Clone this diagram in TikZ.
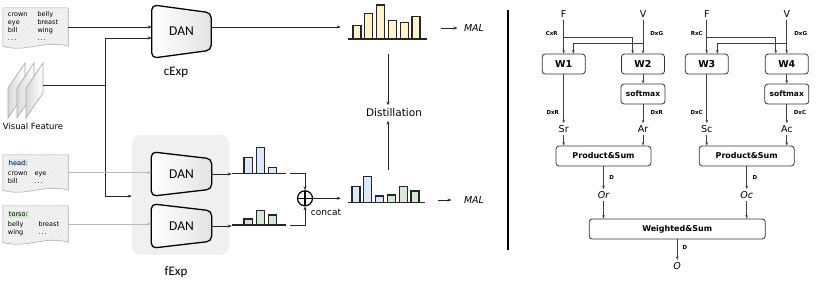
\documentclass[tikz,border=0pt]{standalone}
\usepackage{fontspec}
\setmainfont{DejaVu Sans}[BoldFont={DejaVu Sans Bold},ItalicFont={DejaVu Sans Oblique},BoldItalicFont={DejaVu Sans Bold Oblique}]
\newfontfamily\calfont{Carlito}
\usepackage{tikz}
\usetikzlibrary{arrows.meta,positioning,backgrounds,patterns,calc}
\definecolor{histyellow}{HTML}{FFF2CC}
\definecolor{histblue}{HTML}{DAE8FC}
\definecolor{histgreen}{HTML}{D5E8D4}
\setlength{\fboxsep}{1pt}

\begin{document}
\begin{tikzpicture}[
  x=1pt, y=-1pt,
  arr/.style={-{Stealth[length=4pt,width=3pt]}, line width=0.8pt, black!85},
  link/.style={line width=0.8pt, black!85},
  softarr/.style={-{Stealth[length=4pt,width=3pt]}, line width=0.8pt, gray!55},
  rarr/.style={-{Stealth[length=3.5pt,width=2.6pt]}, line width=0.7pt, black!75},
  attrdoc/.style={text width=55, inner xsep=5, inner ysep=0, align=left, font=\fontsize{6.5}{8}\selectfont},
  docline/.style={draw=gray!70, line width=0.6pt, fill=gray!5, postaction={pattern=north east lines, pattern color=gray!25}},
  sheet/.style={draw=gray!70, line width=0.6pt, left color=gray!30, right color=white},
  dantext/.style={inner sep=0, font=\calfont\fontsize{13.5}{14}\selectfont},
  danline/.style={draw=black, line width=1.3pt, rounded corners=5pt, left color=white, right color=gray!22},
  fexpbox/.style={fill=gray!12, rounded corners=8pt, minimum width=97, minimum height=120},
  caption/.style={font=\calfont\fontsize{13}{14}\selectfont},
  histarea/.style={inner sep=0},
  bar/.style={draw=black!85, line width=1.1pt},
  histbase/.style={draw=black!85, line width=1.5pt},
  catnode/.style={circle, draw, line width=1.2pt, minimum size=15, inner sep=0,
    path picture={\draw[line width=1.2pt] (path picture bounding box.north) -- (path picture bounding box.south)
      (path picture bounding box.west) -- (path picture bounding box.east);}},
  wbox/.style={draw=black!80, line width=0.8pt, rounded corners=3pt, minimum width=43, minimum height=20, inner sep=0, font=\bfseries\fontsize{9.5}{10}\selectfont},
  smbox/.style={wbox, minimum width=44, font=\bfseries\fontsize{7.5}{8}\selectfont},
  pbox/.style={wbox, minimum width=95, font=\bfseries\fontsize{8}{9}\selectfont},
  vlabel/.style={inner sep=2pt, font=\fontsize{9.5}{10}\selectfont},
  dimlabel/.style={inner sep=0, font=\bfseries\fontsize{5.5}{6}\selectfont}
]
  \useasboundingbox (0,0) rectangle (822,284);

  % left: attribute lists and visual feature
  \node[attrdoc, minimum height=38] (attr1) at (35.5,27) {\begin{tabular}{@{}l@{\hspace{10pt}}l@{}}crown & belly\\ eye & breast\\ bill & wing\\ .\,.\,. & .\,.\,.\end{tabular}};
  \node[attrdoc, minimum height=35] (attr2) at (35.5,172.5) {\begin{tabular}{@{}l@{\hspace{7pt}}l@{}}\multicolumn{2}{@{}l}{\colorbox{histblue}{head:}}\\[2pt] crown & eye\\ bill & .\,.\,.\end{tabular}};
  \node[attrdoc, minimum height=36] (attr3) at (35.5,224) {\begin{tabular}{@{}l@{\hspace{15pt}}l@{}}\multicolumn{2}{@{}l}{\colorbox{histgreen}{torso:}}\\[2pt] belly & breast\\ wing & .\,.\,.\end{tabular}};

  \foreach \i in {0,1,2}
    \draw[sheet] (8+9*\i,118) -- (8+9*\i,88) -- (25+9*\i,63) -- (25+9*\i,93) -- cycle;
  \coordinate (vf) at (43,85);
  \node[font=\fontsize{8.5}{9}\selectfont] (vflabel) at (33,126) {Visual Feature};

  % DAN blocks
  \node[dantext, minimum width=59, minimum height=53] (dan1) at (181.5,31.5) {DAN};
  \node[dantext, minimum width=60, minimum height=44] (dan2) at (181.5,174) {DAN};
  \node[dantext, minimum width=60, minimum height=44] (dan3) at (181.5,226) {DAN};
  \node[caption] (cexp) at (176,72) {cExp};
  \node[caption] (fexplabel) at (176,272) {fExp};

  \begin{scope}[on background layer]
    \node[fexpbox] (fexp) at (180.5,195) {};
    \foreach \d in {attr1,attr2,attr3}
      \draw[docline] (\d.north west) -- (\d.north east) -- (\d.south east)
        .. controls +(-22,-7) and +(22,7) .. (\d.south west) -- cycle;
    \foreach \d/\s in {dan1/8,dan2/7,dan3/7}
      \draw[danline] (\d.north west) -- ([yshift=-\s]\d.north east) -- ([yshift=\s]\d.south east) -- (\d.south west) -- cycle;
  \end{scope}

  % histograms
  \node[histarea, minimum width=94, minimum height=34] (hc) at (388,22) {};
  \node[histarea, minimum width=94, minimum height=33] (hb) at (388,186.5) {};
  \node[histarea, minimum width=54, minimum height=26] (hs1) at (259,160.3) {};
  \node[histarea, minimum width=54, minimum height=18] (hs2) at (259,216) {};

  \foreach \i/\t in {0/25.7,1/13.3,2/5,3/20.7,4/22.7,5/16.7}
    \draw[bar, fill=histyellow] (353+11.8*\i,39) rectangle ++(8,\t-39);
  \draw[histbase] (348,39) -- (427,39);
  \foreach \i/\t/\c in {0/186.7/histblue,1/176.7/histblue,2/196/histblue,3/195/histgreen,4/186.7/histgreen,5/191/histgreen}
    \draw[bar, fill=\c] (352+11.8*\i,202.7) rectangle ++(8,\t-202.7);
  \draw[histbase] (348,202.7) -- (425,202.7);
  \foreach \i/\t in {0/157.3,1/147.3,2/167.3}
    \draw[bar, fill=histblue] (244+12.2*\i,173.3) rectangle ++(8.5,\t-173.3);
  \draw[histbase] (232,173.3) -- (286,173.3);
  \foreach \i/\t in {0/219,1/210.7,2/215}
    \draw[bar, fill=histgreen] (244+12.2*\i,225) rectangle ++(8.5,\t-225);
  \draw[histbase] (232,225) -- (286,225);

  \node[catnode] (cat) at (305,198.3) {};
  \node[font=\fontsize{9}{10}\selectfont] (catlabel) at (326,212) {concat};
  \node[font=\itshape\fontsize{9.5}{10}\selectfont] (mal1) at (474,28) {MAL};
  \node[font=\itshape\fontsize{9.5}{10}\selectfont] (mal2) at (474,200) {MAL};
  \node[font=\fontsize{10.5}{11}\selectfont] (dist) at (394,113) {Distillation};

  % left connectors
  \coordinate (fork) at (105,85);
  \coordinate (ftop) at (105,38);
  \coordinate (fbot) at (105,196);
  \coordinate (dan1out) at ([yshift=4.5]dan1.east);
  \draw[link] (vf) -- (fork);
  \draw[arr] (fbot) -- (ftop) -- (ftop -| dan1.west);
  \draw[arr] (fbot) -- (fbot -| fexp.west);
  \draw[arr] (attr1) -- (attr1 -| dan1.west);
  \draw[softarr] (attr2) -- (attr2 -| dan2.west);
  \draw[softarr] (attr3) -- (attr3 -| dan3.west);
  \draw[arr] (dan1out) -- (dan1out -| hc.west);
  \draw[arr] (dan2) -- (dan2 -| hs1.west);
  \draw[arr] (dan3) -- (dan3 -| hs2.west);
  \draw[arr] ([xshift=4]hs1.south east) -| (cat.north);
  \draw[arr] ([xshift=4]hs2.south east) -| (cat.south);
  \draw[arr] (cat) -- (cat -| hb.west);
  \draw[arr, shorten <=6pt, shorten >=3pt] (hc.east |- mal1) -- (mal1);
  \draw[arr, shorten <=3pt, shorten >=9pt] (hb.east |- mal2) -- (mal2);
  \draw[arr] ([yshift=-15]hc.south) -- (hc.south |- dist.north);
  \draw[arr] (hb.north) -- (hb.north |- dist.south);

  % separator
  \draw[line width=1.2pt] (508,10) -- (508,250);

  % right: attention blocks
  \node[vlabel] (f1) at (563.7,14) {F};
  \node[vlabel] (v1) at (643,14) {V};
  \node[vlabel] (f2) at (706.8,14) {F};
  \node[vlabel] (v2) at (786.8,14) {V};
  \node[wbox] (w1) at (563.7,64) {W1};
  \node[wbox] (w2) at (643,64) {W2};
  \node[wbox] (w3) at (706.8,64) {W3};
  \node[wbox] (w4) at (786.8,64) {W4};
  \node[smbox] (sm1) at (643,94) {softmax};
  \node[smbox] (sm2) at (786.8,94) {softmax};
  \node[vlabel] (sr) at (563.7,129) {Sr};
  \node[vlabel] (ar) at (643,129) {Ar};
  \node[vlabel] (sc) at (706.8,129) {Sc};
  \node[vlabel] (ac) at (786.8,129) {Ac};
  \node[pbox] (ps1) at (603.5,156) {Product\&Sum};
  \node[pbox] (ps2) at (746.7,156) {Product\&Sum};
  \node[vlabel, font=\itshape\fontsize{9.5}{10}\selectfont] (outr) at (603.5,195) {Or};
  \node[vlabel, font=\itshape\fontsize{9.5}{10}\selectfont] (outc) at (746.7,195) {Oc};
  \node[pbox, minimum width=176] (ws) at (677.2,229) {Weighted\&Sum};
  \node[vlabel, font=\itshape\fontsize{9.5}{10}\selectfont] (out) at (677.2,265.7) {O};

  \node[dimlabel] (d1) at (551.7,33) {CxR};
  \node[dimlabel] (d2) at (656.7,33) {DxG};
  \node[dimlabel] (d3) at (696.7,33) {RxC};
  \node[dimlabel] (d4) at (800.7,33) {DxG};
  \node[dimlabel] (d5) at (552.7,112) {DxR};
  \node[dimlabel] (d6) at (656.7,112) {DxR};
  \node[dimlabel] (d7) at (696.7,112) {DxC};
  \node[dimlabel] (d8) at (800,112) {DxC};
  \node[dimlabel] (d9) at (611.7,177) {D};
  \node[dimlabel] (d10) at (755,177) {D};
  \node[dimlabel] (d11) at (685,247) {D};

  \coordinate (fsplit1) at (563.7,37.3);
  \coordinate (vsplit1) at (643,43.3);
  \coordinate (fsplit2) at (706.8,37.3);
  \coordinate (vsplit2) at (786.8,43.3);
  \draw[rarr] (f1) -- (w1);
  \draw[rarr] (v1) -- (w2);
  \draw[rarr] (f2) -- (w3);
  \draw[rarr] (v2) -- (w4);
  \draw[rarr] (fsplit1) -| ([xshift=-10.3]w2.north);
  \draw[rarr] (vsplit1) -| ([xshift=9.6]w1.north);
  \draw[rarr] (fsplit2) -| ([xshift=-11]w4.north);
  \draw[rarr] (vsplit2) -| ([xshift=10.5]w3.north);
  \draw[rarr] (w2) -- (sm1);
  \draw[rarr] (w4) -- (sm2);
  \draw[rarr] (w1) -- (sr);
  \draw[rarr] (sm1) -- (ar);
  \draw[rarr] (w3) -- (sc);
  \draw[rarr] (sm2) -- (ac);
  \draw[rarr] (sr) -- (sr |- ps1.north);
  \draw[rarr] (ar) -- (ar |- ps1.north);
  \draw[rarr] (sc) -- (sc |- ps2.north);
  \draw[rarr] (ac) -- (ac |- ps2.north);
  \draw[rarr] (ps1) -- (outr);
  \draw[rarr] (ps2) -- (outc);
  \draw[rarr] (outr) -- (outr |- ws.north);
  \draw[rarr] (outc) -- (outc |- ws.north);
  \draw[rarr] (ws) -- (out);
\end{tikzpicture}
\end{document}
